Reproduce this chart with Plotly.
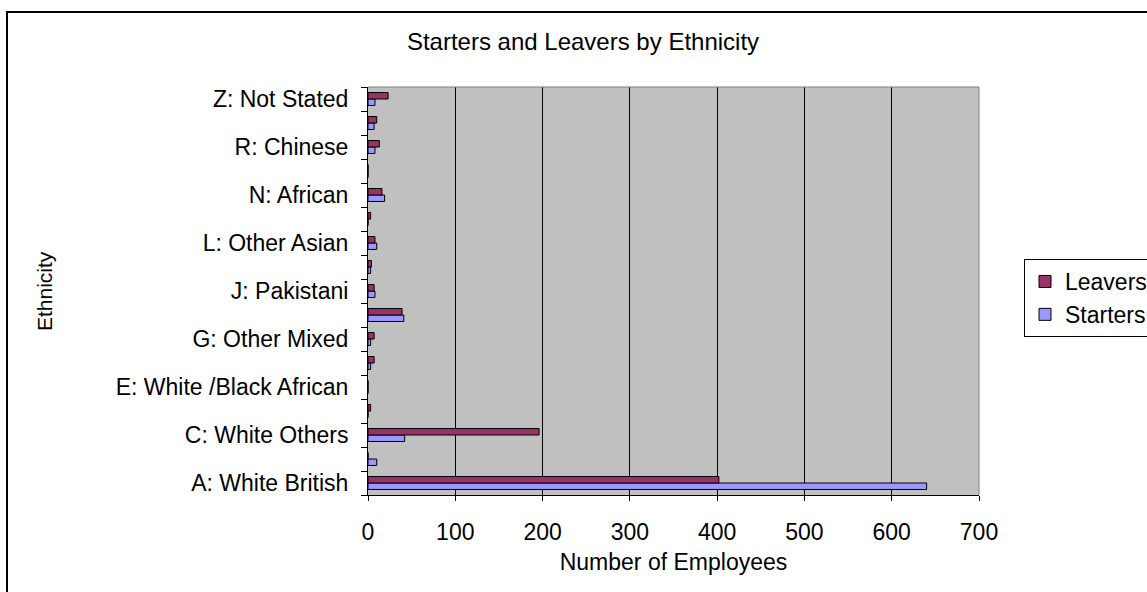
import plotly.graph_objects as go

# Ethnicity categories, bottom to top
categories = [
    "A: White British", "B: White Irish", "C: White Others",
    "D: White /Black Caribbean", "E: White /Black African", "F: White /Asian",
    "G: Other Mixed", "H: Indian", "J: Pakistani", "K: Bangladeshi",
    "L: Other Asian", "M: Caribbean", "N: African", "P: Other Black",
    "R: Chinese", "S: Other", "Z: Not Stated",
]
leavers = [402, 0, 196, 3, 0, 7, 7, 39, 7, 4, 8, 3, 16, 0, 13, 10, 23]
starters = [640, 10, 42, 0, 0, 3, 3, 41, 8, 3, 10, 0, 19, 0, 8, 7, 8]
x_ticks = [0, 100, 200, 300, 400, 500, 600, 700]

FONT = "Liberation Sans, Arial, sans-serif"
pos = list(range(len(categories)))

fig = go.Figure()
fig.add_trace(go.Bar(
    y=pos, x=starters, orientation="h", name="Starters",
    marker=dict(color="#9999FF", line=dict(color="black", width=1)),
))
fig.add_trace(go.Bar(
    y=pos, x=leavers, orientation="h", name="Leavers",
    marker=dict(color="#993366", line=dict(color="black", width=1)),
))

shown = pos[::2]
fig.update_layout(
    width=1147, height=592,
    margin=dict(l=368, r=168, t=87, b=97, autoexpand=False),
    paper_bgcolor="white", plot_bgcolor="#C0C0C0",
    font=dict(family=FONT, size=23, color="black"),
    barmode="group", bargap=0.46, bargroupgap=0,
    title=dict(text="Starters and Leavers by Ethnicity", x=583 / 1147, xanchor="center",
               y=1 - 42 / 592, yanchor="middle", font=dict(family=FONT, size=24)),
    xaxis=dict(
        range=[0, 700], tickvals=x_ticks, showgrid=True, gridcolor="black", gridwidth=1,
        showline=True, linecolor="black", linewidth=1, zeroline=False,
        ticks="outside", ticklen=5, tickcolor="black", ticklabelstandoff=11,
        tickfont=dict(family=FONT, size=23),
        title=dict(text="Number of Employees", standoff=10,
                   font=dict(family=FONT, size=23)),
    ),
    yaxis=dict(
        range=[-0.5, len(categories) - 0.5], tickvals=shown,
        ticktext=[categories[i] for i in shown],
        tickfont=dict(family=FONT, size=23),
        showgrid=False, zeroline=False, showline=True, linecolor="black", linewidth=1,
        ticks="outside", ticklen=14, tickcolor="rgba(0,0,0,0)",
        minor=dict(tickvals=[i - 0.5 for i in range(len(categories) + 1)],
                   ticks="outside", ticklen=6, tickcolor="black", showgrid=False),
    ),
    annotations=[
        dict(text="Ethnicity", textangle=-90, xref="paper", yref="paper",
             x=(44 - 368) / 611, y=0.5, xanchor="center", yanchor="middle",
             showarrow=False, font=dict(family=FONT, size=21)),
    ],
    legend=dict(x=(1024 - 368) / 611, y=(495 - 259) / 408, xanchor="left", yanchor="top",
                traceorder="reversed", bgcolor="white", bordercolor="black",
                borderwidth=1, itemwidth=30, font=dict(family=FONT, size=23)),
    shapes=[
        # outer chart frame
        dict(type="rect", xref="paper", yref="paper",
             x0=-361 / 611, x1=1.3, y0=-0.3, y1=(495 - 12) / 408,
             line=dict(color="black", width=2), layer="above"),
        # plot area border on the top and right
        dict(type="line", xref="paper", yref="paper", x0=0, x1=1, y0=1, y1=1,
             line=dict(color="#808080", width=1), layer="above"),
        dict(type="line", xref="paper", yref="paper", x0=1, x1=1, y0=0, y1=1,
             line=dict(color="#808080", width=1), layer="above"),
    ],
)

fig.write_html("out.html")
